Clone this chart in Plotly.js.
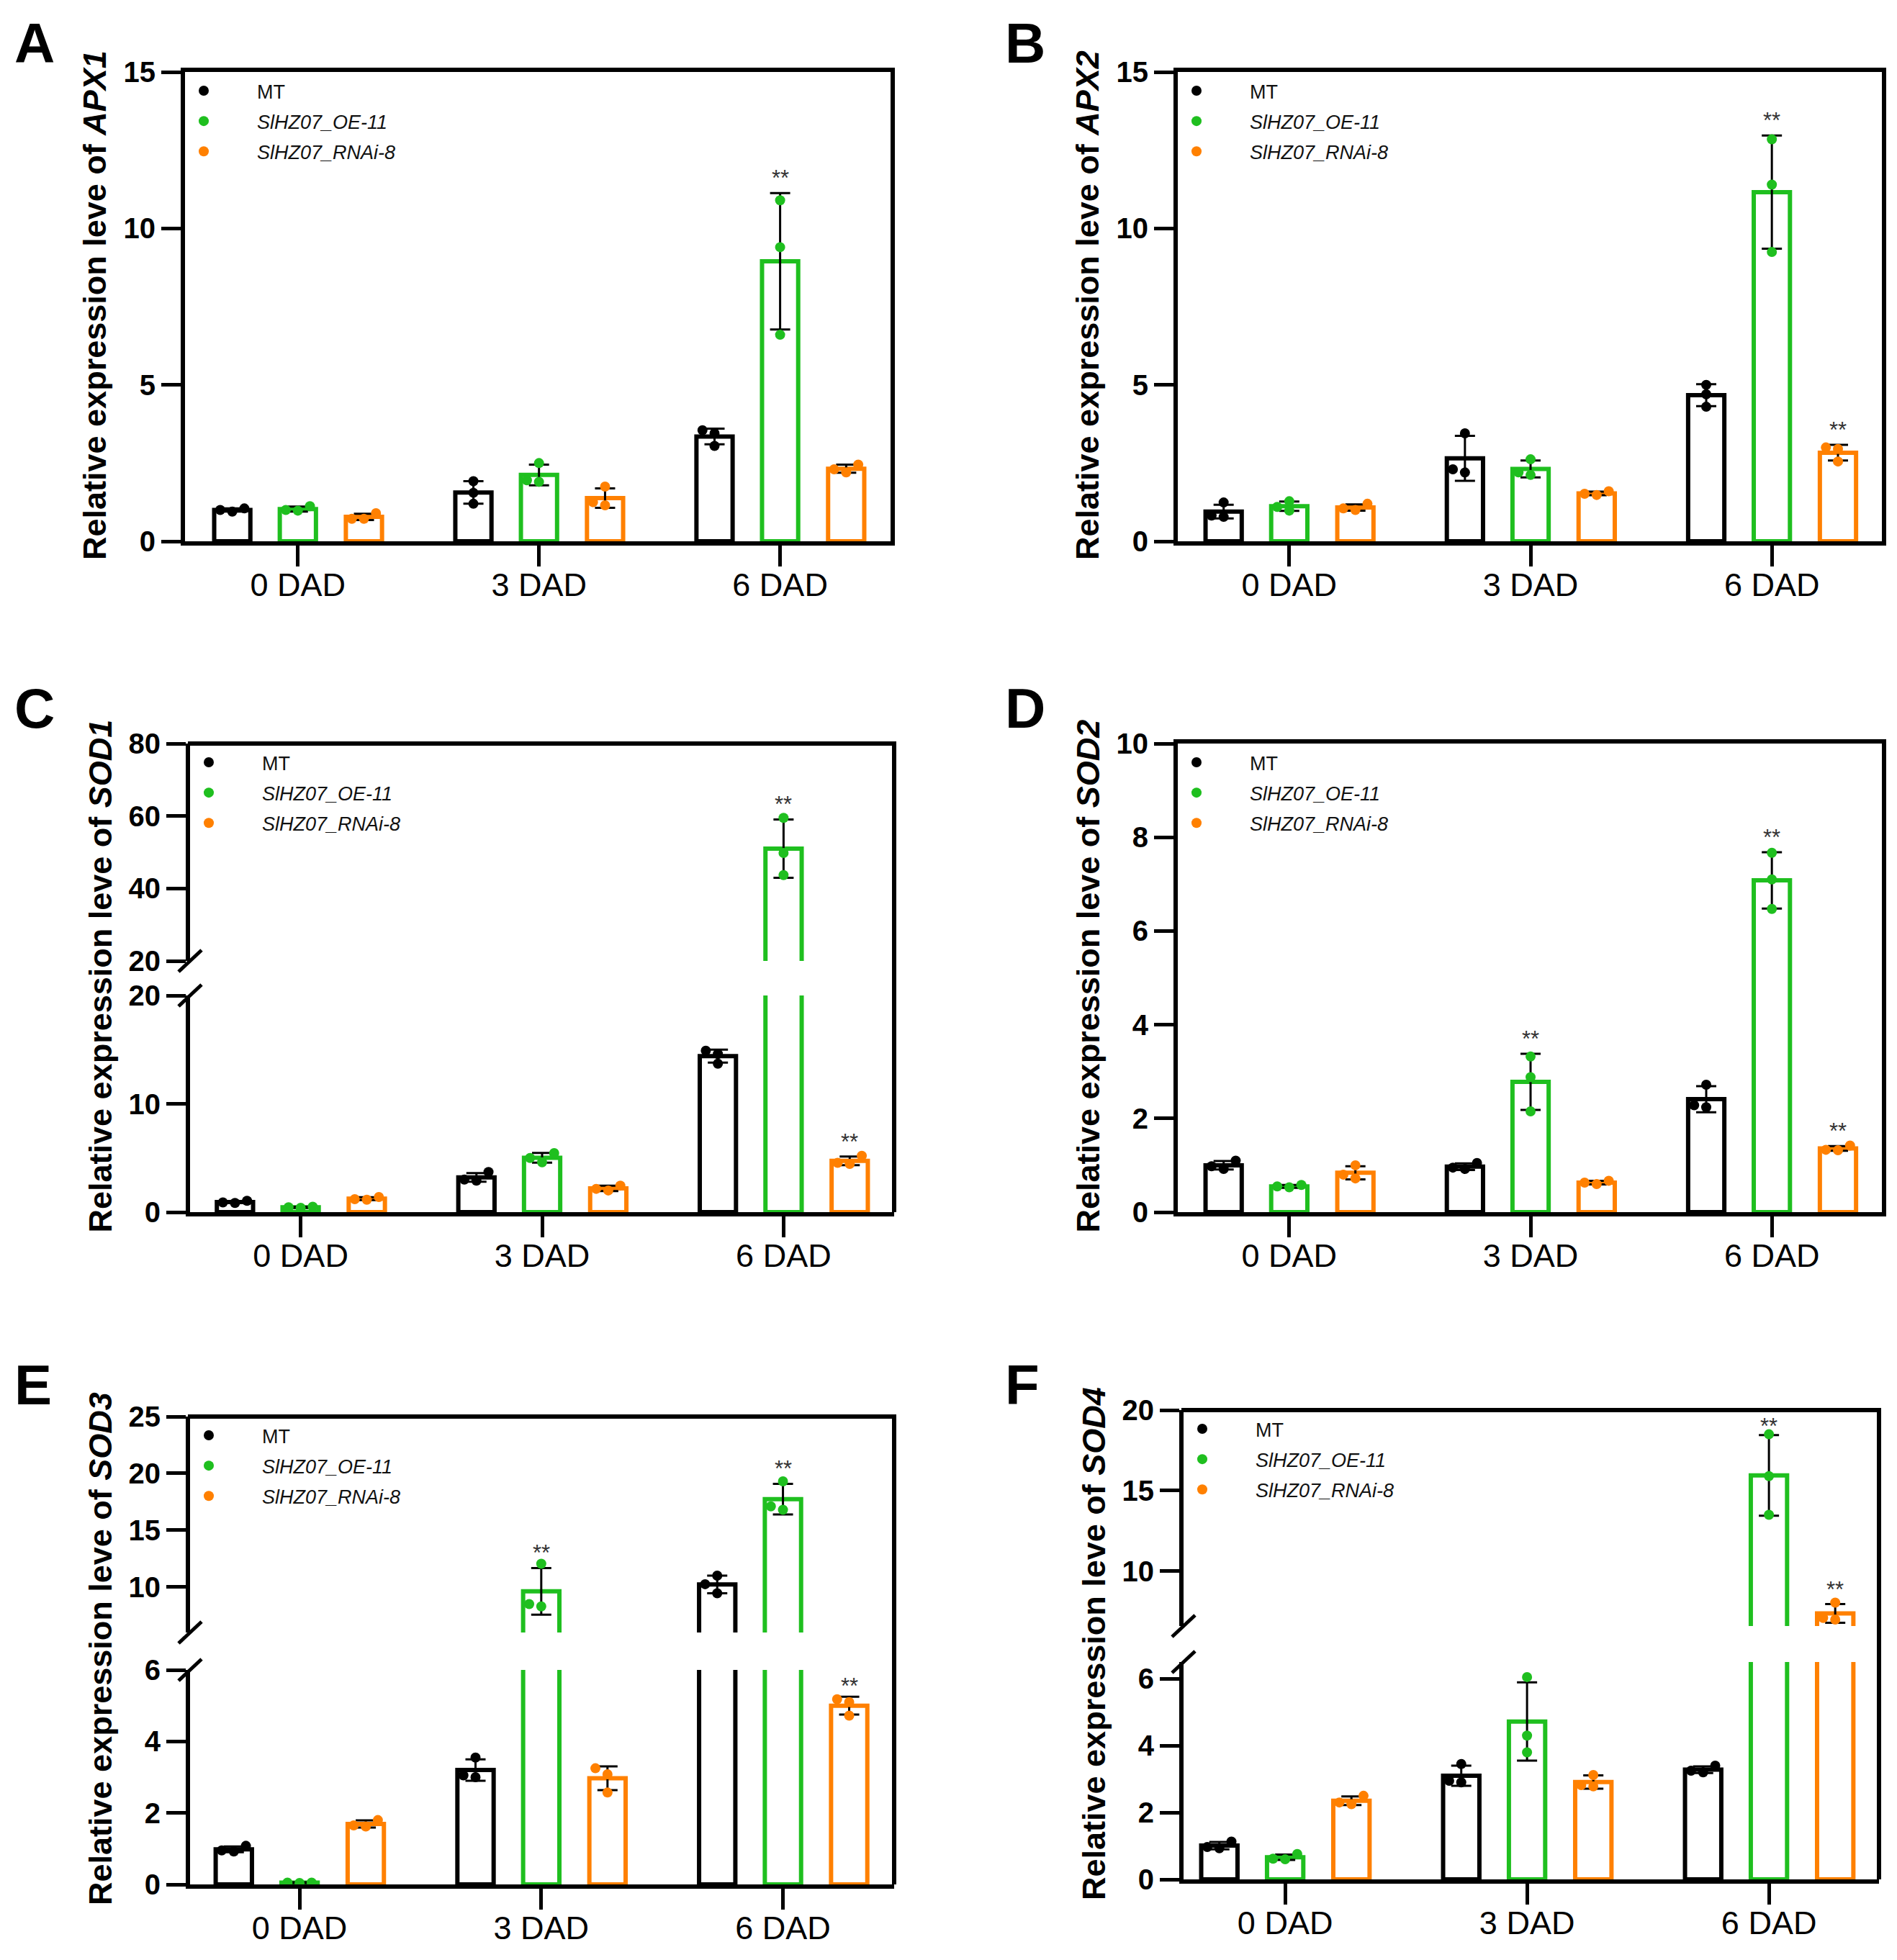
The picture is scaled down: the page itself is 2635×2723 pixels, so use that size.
<!DOCTYPE html>
<html>
<head>
<meta charset="utf-8">
<script src="https://cdn.plot.ly/plotly-3.0.1.min.js"></script>
<style>
  body { margin: 0; background: #fff; }
  #chart { width: 2635px; height: 2723px; }
</style>
</head>
<body>
<div id="chart"></div>
<script>
// categories and genotypes
const days = ['0 DAD', '3 DAD', '6 DAD'];
const genotypes = ['MT', '<i>SlHZ07_OE-11</i>', '<i>SlHZ07_RNAi-8</i>'];
const lineColors = ['#000000', '#1fbf1f', '#ff8000'];

// rows: MT, OE-11, RNAi-8 ; columns: 0, 3, 6 DAD
const apx1Mean = [[1.0, 1.56, 3.35], [1.03, 2.12, 8.95], [0.78, 1.38, 2.32]];
const apx1Sd = [[0.05, 0.36, 0.25], [0.08, 0.33, 2.18], [0.1, 0.31, 0.13]];
const apx1Reps = [
    [[1.05, 1.0, 0.95], [1.92, 1.55, 1.2], [3.55, 3.45, 3.05]],
    [[1.12, 1.0, 0.98], [2.5, 1.95, 1.9], [10.9, 9.4, 6.6]],
    [[0.9, 0.72, 0.72], [1.75, 1.25, 1.15], [2.45, 2.3, 2.2]],
];
const apx1Sig = [['', '', ''], ['', '', '**'], ['', '', '']];

const apx2Mean = [[0.95, 2.65, 4.67], [1.12, 2.31, 11.16], [1.08, 1.53, 2.83]];
const apx2Sd = [[0.22, 0.72, 0.35], [0.15, 0.27, 1.81], [0.1, 0.06, 0.25]];
const apx2Reps = [
    [[1.24, 0.82, 0.78], [3.45, 2.3, 2.2], [5.0, 4.7, 4.3]],
    [[1.28, 1.1, 0.98], [2.62, 2.2, 2.12], [12.85, 11.4, 9.25]],
    [[1.2, 1.05, 1.0], [1.6, 1.52, 1.48], [3.0, 2.95, 2.55]],
];
const apx2Sig = [['', '', ''], ['', '', '**'], ['', '', '**']];

const sod1Mean = [[0.93, 3.2, 14.4], [0.45, 5.02, 51.0], [1.25, 2.2, 4.73]];
const sod1Sd = [[0.1, 0.4, 0.6], [0.05, 0.45, 8.05], [0.13, 0.25, 0.4]];
const sod1Reps = [
    [[1.05, 0.9, 0.85], [3.7, 3.0, 2.9], [14.9, 14.6, 13.7]],
    [[0.5, 0.4, 0.45], [5.45, 5.0, 4.6], [59.5, 49.8, 43.7]],
    [[1.4, 1.15, 1.2], [2.45, 2.15, 2.0], [5.2, 4.55, 4.45]],
];
const sod1Sig = [['', '', ''], ['', '', '**'], ['', '', '**']];

const sod2Mean = [[1.0, 0.97, 2.41], [0.55, 2.78, 7.08], [0.84, 0.63, 1.36]];
const sod2Sd = [[0.09, 0.07, 0.28], [0.03, 0.6, 0.6], [0.14, 0.04, 0.05]];
const sod2Reps = [
    [[1.1, 0.98, 0.92], [1.05, 0.95, 0.92], [2.72, 2.28, 2.24]],
    [[0.58, 0.55, 0.53], [3.32, 2.88, 2.15], [7.67, 7.1, 6.47]],
    [[1.0, 0.8, 0.72], [0.67, 0.63, 0.6], [1.42, 1.33, 1.32]],
];
const sod2Sig = [['', '', ''], ['', '**', '**'], ['', '', '**']];

const sod3Mean = [[0.98, 3.2, 10.23], [0.05, 9.62, 17.73], [1.69, 2.97, 5.0]];
const sod3Sd = [[0.08, 0.3, 0.78], [0.01, 2.05, 1.35], [0.1, 0.33, 0.25]];
const sod3Reps = [
    [[1.08, 0.95, 0.92], [3.55, 3.05, 3.0], [11.0, 10.25, 9.45]],
    [[0.05, 0.04, 0.05], [12.05, 8.5, 8.3], [19.3, 17.1, 16.8]],
    [[1.8, 1.65, 1.62], [3.25, 3.08, 2.57], [5.18, 5.1, 4.72]],
];
const sod3Sig = [['', '', ''], ['', '**', '**'], ['', '', '**']];

const sod4Mean = [[1.01, 3.1, 3.28], [0.66, 4.72, 15.95], [2.35, 2.91, 7.38]];
const sod4Sd = [[0.11, 0.3, 0.1], [0.08, 1.17, 2.5], [0.13, 0.2, 0.58]];
const sod4Reps = [
    [[1.13, 0.97, 0.93], [3.45, 2.95, 2.9], [3.4, 3.25, 3.2]],
    [[0.76, 0.62, 0.6], [6.05, 4.3, 3.8], [18.5, 15.9, 13.5]],
    [[2.5, 2.3, 2.25], [3.12, 2.82, 2.78], [8.05, 7.1, 7.0]],
];
const sod4Sig = [['', '', ''], ['', '', '**'], ['', '', '**']];

const W = 2635, H = 2723;
const fx = p => p / W;
const fy = p => 1 - p / H;

const FONT = 'Liberation Sans, Arial, sans-serif';
const barOffsets = [-0.272, 0, 0.274];

// pixel boxes of each panel; segs = y-axis pieces from bottom to top
const panels = [
    {letter: 'A', gene: 'APX1', mean: apx1Mean, sd: apx1Sd, reps: apx1Reps, sig: apx1Sig,
     left: 257, right: 1237, top: 100, bottom: 752, lx: 18, ly: 14, xr: [-0.468, 2.458],
     segs: [{range: [0, 15], ticks: [0, 5, 10, 15]}]},
    {letter: 'B', gene: 'APX2', mean: apx2Mean, sd: apx2Sd, reps: apx2Reps, sig: apx2Sig,
     left: 1636, right: 2614, top: 100, bottom: 752, lx: 1394, ly: 14, xr: [-0.462, 2.456],
     segs: [{range: [0, 15], ticks: [0, 5, 10, 15]}]},
    {letter: 'C', gene: 'SOD1', mean: sod1Mean, sd: sod1Sd, reps: sod1Reps, sig: sod1Sig,
     left: 264, right: 1242, top: 1033, bottom: 1684, lx: 18, ly: 938, xr: [-0.458, 2.458],
     segs: [{range: [0, 20], ticks: [0, 10, 20], top: 1383},
            {range: [20, 80], ticks: [20, 40, 60, 80], bottom: 1335}]},
    {letter: 'D', gene: 'SOD2', mean: sod2Mean, sd: sod2Sd, reps: sod2Reps, sig: sod2Sig,
     left: 1636, right: 2614, top: 1033, bottom: 1684, lx: 1394, ly: 938, xr: [-0.462, 2.456],
     segs: [{range: [0, 10], ticks: [0, 2, 4, 6, 8, 10]}]},
    {letter: 'E', gene: 'SOD3', mean: sod3Mean, sd: sod3Sd, reps: sod3Reps, sig: sod3Sig,
     left: 264, right: 1242, top: 1968, bottom: 2618, lx: 18, ly: 1878, xr: [-0.453, 2.46],
     segs: [{range: [0, 6], ticks: [0, 2, 4, 6], top: 2320},
            {range: [6, 25], ticks: [10, 15, 20, 25], bottom: 2268}]},
    {letter: 'F', gene: 'SOD4', mean: sod4Mean, sd: sod4Sd, reps: sod4Reps, sig: sod4Sig,
     left: 1644, right: 2610, top: 1959, bottom: 2611, lx: 1394, ly: 1878, xr: [-0.42, 2.455],
     segs: [{range: [0, 6.5], ticks: [0, 2, 4, 6], top: 2309},
            {range: [6.6, 20], ticks: [10, 15, 20], bottom: 2259}]},
];

// side-by-side placement for dots that would overlap
function spreadDots(vals, pxPerUnit) {
    const order = vals.map((v, i) => i).sort((a, b) => vals[a] - vals[b]);
    const offs = new Array(vals.length).fill(0);
    const placed = [];
    const slots = [0, -0.05, 0.05, -0.1, 0.1];
    order.forEach(i => {
        const near = placed.filter(j => Math.abs(vals[j] - vals[i]) * pxPerUnit(vals[i]) < 13);
        offs[i] = slots.find(s => !near.some(j => Math.abs(offs[j] - s) < 0.03));
        placed.push(i);
    });
    return offs;
}

const data = [];
const layout = {
    width: W,
    height: H,
    margin: {t: 0, r: 0, b: 0, l: 0},
    paper_bgcolor: '#ffffff',
    plot_bgcolor: 'rgba(0,0,0,0)',
    font: {family: FONT, color: '#000'},
    barmode: 'overlay',
    showlegend: true,
    annotations: [],
    shapes: [],
};

let yCount = 0;
panels.forEach((p, pi) => {
    const xn = pi + 1;
    const xRef = xn === 1 ? 'x' : 'x' + xn;
    const legendKey = xn === 1 ? 'legend' : 'legend' + xn;
    const single = p.segs.length === 1;

    const segInfo = p.segs.map((s, si) => {
        yCount++;
        const yRef = yCount === 1 ? 'y' : 'y' + yCount;
        const yName = yCount === 1 ? 'yaxis' : 'yaxis' + yCount;
        const pxTop = si === 0 ? (s.top || p.top) : p.top;
        const pxBottom = si === 0 ? p.bottom : s.bottom;
        layout[yName] = {
            domain: [fy(pxBottom), fy(pxTop)],
            range: s.range,
            anchor: xRef,
            tickmode: 'array',
            tickvals: s.ticks,
            ticktext: s.ticks.map(t => '<b>' + t + '</b>'),
            ticks: 'outside',
            ticklen: 27,
            tickwidth: 5,
            tickcolor: '#000',
            showline: true,
            linewidth: 6,
            linecolor: '#000',
            mirror: single,
            showgrid: false,
            zeroline: false,
            tickfont: {size: 40, color: '#000'},
        };
        return {yRef, range: s.range, pxPerUnit: (pxBottom - pxTop) / (s.range[1] - s.range[0])};
    });

    layout[xn === 1 ? 'xaxis' : 'xaxis' + xn] = {
        domain: [fx(p.left), fx(p.right)],
        range: p.xr,
        anchor: segInfo[0].yRef,
        tickmode: 'array',
        tickvals: days.map((d, i) => i),
        ticktext: days,
        ticks: 'outside',
        ticklen: 29,
        tickwidth: 5,
        tickcolor: '#000',
        ticklabelstandoff: -13,
        showline: true,
        linewidth: 6,
        linecolor: '#000',
        mirror: single,
        showgrid: false,
        zeroline: false,
        tickfont: {size: 45, color: '#000'},
    };

    const segFor = v => {
        let k = 0;
        segInfo.forEach((s, i) => { if (v >= s.range[0]) k = i; });
        return segInfo[k];
    };

    segInfo.forEach((seg, si) => {
        genotypes.forEach((name, g) => {
            data.push({
                type: 'bar',
                x: days.map((d, i) => i + barOffsets[g]),
                y: p.mean[g],
                width: 0.15,
                marker: {color: 'rgba(0,0,0,0)', line: {color: lineColors[g], width: 6}},
                error_y: {type: 'data', array: p.sd[g], visible: true, color: '#000', thickness: 3, width: 14},
                xaxis: xRef,
                yaxis: seg.yRef,
                showlegend: false,
                hoverinfo: 'skip',
            });

            const xs = [], ys = [];
            p.reps[g].forEach((vals, d) => {
                const offs = spreadDots(vals, v => segFor(v).pxPerUnit);
                vals.forEach((v, k) => {
                    xs.push(d + barOffsets[g] + offs[k]);
                    ys.push(v);
                });
            });
            data.push({
                type: 'scatter',
                mode: 'markers',
                x: xs,
                y: ys,
                name: name,
                marker: {size: 14, color: lineColors[g]},
                xaxis: xRef,
                yaxis: seg.yRef,
                legend: legendKey,
                legendgroup: p.letter + g,
                showlegend: si === 0,
                hoverinfo: 'skip',
            });
        });
    });

    layout[legendKey] = {
        x: fx(p.left - 48),
        y: fy(p.top + 2),
        xanchor: 'left',
        yanchor: 'top',
        bgcolor: 'rgba(0,0,0,0)',
        font: {family: FONT, size: 27, color: '#111'},
        traceorder: 'grouped',
        tracegroupgap: 4,
        itemwidth: 138,
    };

    // significance marks; kept under the frame when the bar nearly reaches it
    p.sig.forEach((row, g) => {
        row.forEach((mark, d) => {
            if (!mark) return;
            const topVal = p.mean[g][d] + p.sd[g][d];
            const seg = segFor(topVal);
            const room = (seg.range[1] - topVal) * seg.pxPerUnit;
            const tight = room < 40;
            layout.annotations.push({
                xref: xRef,
                yref: seg.yRef,
                x: d + barOffsets[g],
                y: tight ? seg.range[1] : topVal,
                text: mark,
                showarrow: false,
                yanchor: tight ? 'top' : 'bottom',
                yshift: tight ? -3 : 1,
                font: {size: 31, color: '#333'},
            });
        });
    });

    // y title over the whole panel height
    layout.annotations.push({
        xref: 'paper',
        yref: 'paper',
        x: fx(p.left - 125),
        y: fy((p.top + p.bottom) / 2 - 2),
        text: '<b>Relative expression leve of <i>' + p.gene + '</i></b>',
        textangle: -90,
        showarrow: false,
        xanchor: 'center',
        yanchor: 'middle',
        font: {size: 45, color: '#000'},
    });

    // panel letter
    layout.annotations.push({
        xref: 'paper',
        yref: 'paper',
        x: fx(p.lx),
        y: fy(p.ly),
        text: '<b>' + p.letter + '</b>',
        showarrow: false,
        xanchor: 'left',
        yanchor: 'top',
        font: {size: 78, color: '#000'},
    });

    if (!single) {
        const frame = {color: '#000', width: 6};
        layout.shapes.push({type: 'line', xref: 'paper', yref: 'paper',
            x0: fx(p.left - 3), x1: fx(p.right + 3), y0: fy(p.top), y1: fy(p.top), line: frame});
        layout.shapes.push({type: 'line', xref: 'paper', yref: 'paper',
            x0: fx(p.right), x1: fx(p.right), y0: fy(p.bottom), y1: fy(p.top), line: frame});
        [p.segs[0].top, p.segs[1].bottom].forEach(edge => {
            layout.shapes.push({type: 'line', xref: 'paper', yref: 'paper',
                xsizemode: 'pixel', ysizemode: 'pixel',
                xanchor: fx(p.left), yanchor: fy(edge),
                x0: -16, x1: 16, y0: -15, y1: 15,
                line: {color: '#000', width: 5}});
        });
    }
});

const config = {
    responsive: false,
    displayModeBar: false,
    staticPlot: true,
};

Plotly.newPlot('chart', data, layout, config);
</script>
</body>
</html>
